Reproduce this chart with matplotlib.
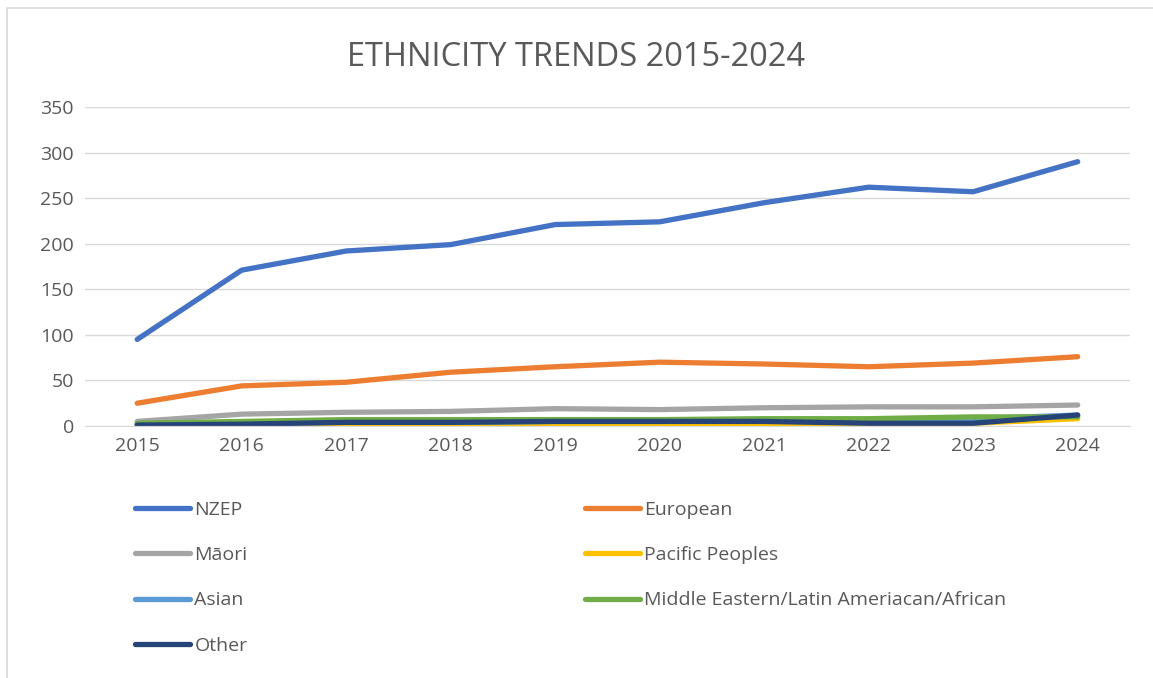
import matplotlib.pyplot as plt
from matplotlib.patches import Rectangle

plt.rcParams["font.family"] = ["Open Sans", "DejaVu Sans"]

years = [2015, 2016, 2017, 2018, 2019, 2020, 2021, 2022, 2023, 2024]
nzep = [95, 171, 192, 199, 221, 224, 245, 262, 257, 290]
european = [25, 44, 48, 59, 65, 70, 68, 65, 69, 76]
maori = [5, 13, 15, 16, 19, 18, 20, 21, 21, 23]
pacific = [1, 1, 2, 2, 1, 1, 2, 2, 3, 8]
asian = [2, 3, 4, 4, 5, 5, 6, 7, 8, 12]
melaa = [3, 5, 7, 7, 7, 7, 8, 8, 10, 10]
other = [1, 2, 4, 4, 5, 5, 5, 3, 3, 12]

series = [
    ("NZEP", nzep, "#4472c4"),
    ("European", european, "#ed7d31"),
    ("Māori", maori, "#a5a5a5"),
    ("Pacific Peoples", pacific, "#ffc000"),
    ("Asian", asian, "#5b9bd5"),
    ("Middle Eastern/Latin Ameriacan/African", melaa, "#70ad47"),
    ("Other", other, "#264478"),
]

fig = plt.figure(figsize=(11.53, 6.78), dpi=100)
ax = fig.add_axes([0.0737, 0.3717, 0.9063, 0.4705])

# chart area border (only top and left edges visible in the crop)
fig.patches.append(Rectangle((7 / 1153, -0.05), 1.1, 1.05 - 8 / 678, transform=fig.transFigure,
                             fill=False, edgecolor="#d9d9d9", linewidth=1.2))

x = list(range(len(years)))
handles = {}
for name, vals, col in series:
    h, = ax.plot(x, vals, color=col, linewidth=3.8, solid_capstyle="round", label=name)
    handles[name] = h

ax.set_xlim(-0.5, len(years) - 0.5)
ax.set_ylim(0, 350)
ax.set_yticks(range(0, 351, 50))
ax.set_xticks(x)
ax.set_xticklabels([str(y) for y in years])
ax.grid(axis="y", color="#d9d9d9", linewidth=1)
ax.set_axisbelow(True)
for s in ["top", "right", "left"]:
    ax.spines[s].set_visible(False)
ax.spines["bottom"].set_color("#d9d9d9")
ax.tick_params(length=0, labelsize=14, colors="#595959", pad=8)

fig.text(0.5, 0.915, "ETHNICITY TRENDS 2015-2024", ha="center", va="center",
         fontsize=23.5, color="#595959")

order = ["NZEP", "Māori", "Asian", "Other",
         "European", "Pacific Peoples", "Middle Eastern/Latin Ameriacan/African"]
leg = fig.legend([handles[n] for n in order], order, ncol=2, frameon=False,
                 loc="upper left", bbox_to_anchor=(0.102, 0.287),
                 fontsize=14, handlelength=2.8, handletextpad=0.25,
                 columnspacing=17.36, labelspacing=1.4, labelcolor="#595959")

fig.savefig("out.png", dpi=100)
